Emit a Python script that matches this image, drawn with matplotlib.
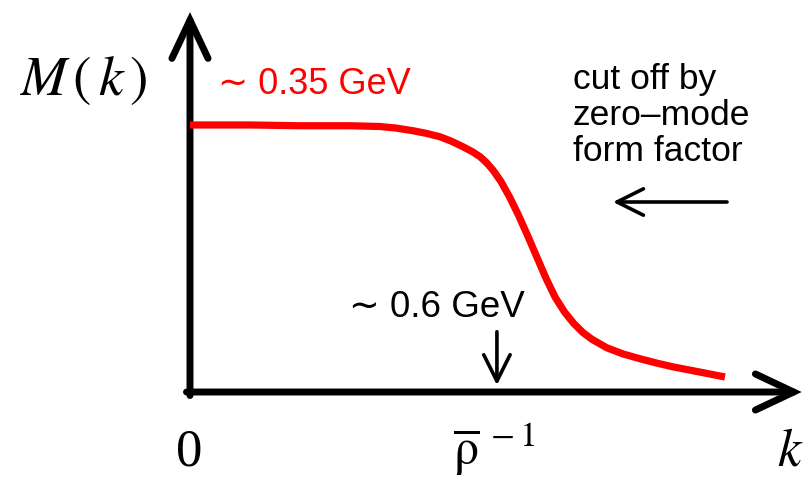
import numpy as np
import matplotlib.pyplot as plt

plt.rcParams['mathtext.fontset'] = 'stix'
plt.rcParams['font.family'] = ['Liberation Sans', 'DejaVu Sans']

# momentum k in units of 1/rho_bar
k_vals = [0.0, 0.195, 0.358, 0.521, 0.619, 0.67, 0.726, 0.77, 0.814, 0.85,
          0.889, 0.92, 0.945, 0.965, 0.987, 1.013, 1.042, 1.070, 1.100,
          1.130, 1.160, 1.190, 1.220, 1.250, 1.280, 1.31, 1.358, 1.41,
          1.466, 1.52, 1.573, 1.661, 1.743]
# dynamical quark mass M(k) in GeV
m_vals = [0.350, 0.350, 0.349, 0.349, 0.348, 0.346, 0.3425, 0.339, 0.3346,
          0.329, 0.3215, 0.315, 0.3084, 0.301, 0.291, 0.276, 0.255, 0.232,
          0.205, 0.177, 0.149, 0.124, 0.105, 0.090, 0.078, 0.069, 0.058,
          0.050, 0.0436, 0.038, 0.033, 0.0262, 0.0197]

RHO_INV = 1.0        # k = 1/rho_bar
K_AXIS_END = 1.993
M_AXIS_END = 0.498

label_low = '\u223c 0.35 GeV'
label_rho = '\u223c 0.6 GeV'
cutoff_lines = ['cut off by', 'zero\u2013mode', 'form factor']

W, H = 806, 478
fig = plt.figure(figsize=(W / 100, H / 100), dpi=100)
ax = fig.add_axes([0, 0, 1, 1])
ax.set_xlim(-0.619, 2.007)
ax.set_ylim(-0.1127, 0.5138)
ax.axis('off')


def pos(x, y):
    # pixel position -> figure fraction
    return x / W, 1 - y / H


# axes with open arrow heads
big_head = dict(arrowstyle='->,head_length=2.75,head_width=1.3',
                lw=5, color='black', shrinkA=0, shrinkB=0,
                mutation_scale=10, joinstyle='miter')
ax.annotate('', xy=(0, M_AXIS_END), xytext=(0, -0.0046), arrowprops=big_head)
ax.annotate('', xy=(K_AXIS_END, 0), xytext=(-0.0114, 0), arrowprops=big_head)

# M(k) curve
ax.plot(k_vals, m_vals, color='#ff0000', lw=5.2, solid_capstyle='butt',
        solid_joinstyle='round', zorder=3)

# marker at k = 1/rho_bar
small_head = dict(arrowstyle='->,head_length=1.9,head_width=0.95',
                  lw=2.6, color='black', shrinkA=0, shrinkB=0,
                  mutation_scale=10)
ax.annotate('', xy=(RHO_INV, 0.009), xytext=(RHO_INV, 0.079),
            arrowprops=small_head)

# cut-off arrow pointing to lower k
ax.annotate('', xy=pos(613, 202), xytext=pos(727, 202),
            xycoords='figure fraction', textcoords='figure fraction',
            arrowprops=small_head)

tf = fig.transFigure
ax.text(*pos(83, 95), r'$M\,(\,k\,)$', transform=tf, fontsize=40,
        ha='center', va='baseline')
ax.text(*pos(189, 466), '0', transform=tf, fontsize=38,
        family='Liberation Serif', ha='center', va='baseline')
ax.text(*pos(803, 466), r'$k$', transform=tf, fontsize=38,
        ha='right', va='baseline')
ax.text(*pos(453, 464), r'$\overline{\mathrm{\rho}}^{\;-1}$', transform=tf,
        fontsize=36, ha='left', va='baseline')

ax.text(*pos(218, 94), label_low, transform=tf, fontsize=26,
        color='#ff0000', ha='left', va='baseline')
ax.text(*pos(349, 317), label_rho, transform=tf, fontsize=26.5,
        color='black', ha='left', va='baseline')

for line, base in zip(cutoff_lines, [89, 125, 161]):
    ax.text(*pos(573, base), line, transform=tf, fontsize=25.5,
            ha='left', va='baseline')

fig.savefig('out.png', dpi=100)
